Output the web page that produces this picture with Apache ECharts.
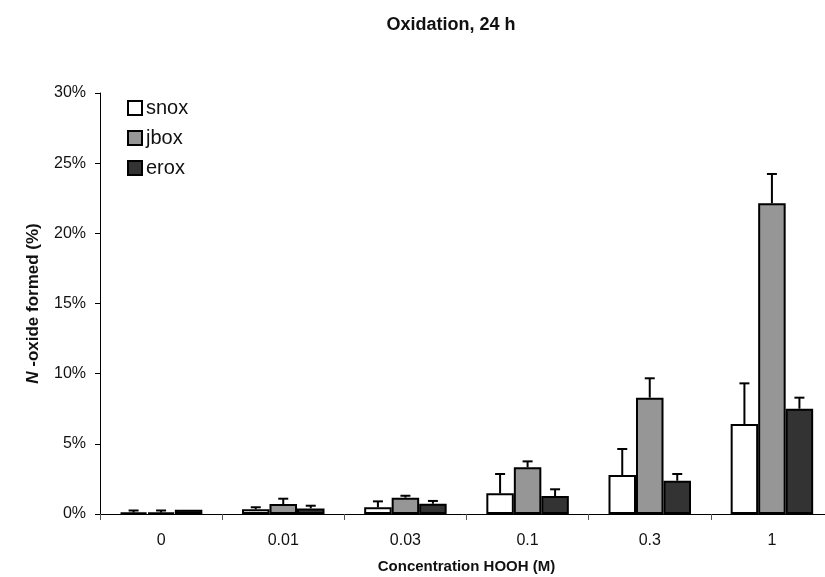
<!DOCTYPE html>
<html>
<head>
<meta charset="utf-8">
<script src="https://cdn.jsdelivr.net/npm/echarts@6/dist/echarts.min.js"></script>
<style>
html,body{margin:0;padding:0;background:#fff;}
#chart{width:825px;height:577px;}
</style>
</head>
<body>
<div id="chart"></div>
<script>
const categories = ['0', '0.01', '0.03', '0.1', '0.3', '1'];
const yTicks = [0, 5, 10, 15, 20, 25, 30];
const snox = [0.10, 0.33, 0.48, 1.47, 2.78, 6.41];
const snoxErr = [0.15, 0.15, 0.42, 1.38, 1.85, 2.90];
const jbox = [0.10, 0.71, 1.16, 3.33, 8.29, 22.14];
const jboxErr = [0.15, 0.38, 0.14, 0.42, 1.38, 2.09];
const erox = [0.30, 0.40, 0.73, 1.28, 2.37, 7.50];
const eroxErr = [0.00, 0.19, 0.20, 0.48, 0.48, 0.79];

const FONT = 'Liberation Sans, Arial, sans-serif';
const BAR_W = 27.5;
const chart = echarts.init(document.getElementById('chart'), null, {renderer: 'canvas'});

function errSeries(vals, errs, offset) {
  return {
    type: 'custom',
    z: 5,
    silent: true,
    data: vals.map((v, i) => [i, v, errs[i]]),
    renderItem: function (params, api) {
      const x = api.value(0), v = api.value(1), e = api.value(2);
      if (!e) return null;
      const b = api.coord([x, v]);
      const t = api.coord([x, v + e]);
      const cx = b[0] + offset;
      return {
        type: 'group',
        children: [
          {type: 'line', shape: {x1: cx, y1: b[1], x2: cx, y2: t[1]}, style: {stroke: '#000', lineWidth: 2}},
          {type: 'line', shape: {x1: cx - 5, y1: t[1], x2: cx + 5, y2: t[1]}, style: {stroke: '#000', lineWidth: 2}}
        ]
      };
    }
  };
}

function barSeries(name, vals, color) {
  return {
    name: name,
    type: 'bar',
    data: vals,
    barWidth: BAR_W,
    barGap: '0%',
    itemStyle: {color: color, borderColor: '#000', borderWidth: 2},
    emphasis: {disabled: true}
  };
}

chart.setOption({
  animation: false,
  backgroundColor: '#fff',
  title: {text: 'Oxidation, 24 h', left: 446, top: 11, textAlign: 'center',
     textStyle: {fontFamily: FONT, fontSize: 18, fontWeight: 'bold', color: '#111'}},
  legend: {
    data: ['snox', 'jbox', 'erox'],
    orient: 'vertical',
    left: 122,
    top: 93,
    itemWidth: 14,
    itemHeight: 14,
    itemGap: 10,
    icon: 'rect',
    textStyle: {fontFamily: FONT, fontSize: 20, color: '#111', padding: [0, 0, 0, -1]}
  },
  grid: {left: 100, top: 93, right: -8, bottom: 63, containLabel: false, outerBoundsMode: 'none'},
  xAxis: {
    type: 'category',
    data: categories,
    name: 'Concentration HOOH (M)',
    nameLocation: 'middle',
    nameGap: 45,
    nameTextStyle: {fontFamily: FONT, fontSize: 15, fontWeight: 'bold', color: '#111'},
    axisLine: {lineStyle: {color: '#000', width: 1}},
    axisTick: {show: true, length: 6, inside: false, lineStyle: {color: '#555'}},
    axisLabel: {fontFamily: FONT, fontSize: 16, color: '#111', margin: 19}
  },
  yAxis: {
    type: 'value',
    min: 0, max: 30, interval: 5,
    name: '{i|N}{b| -oxide formed (%)}',
    nameLocation: 'middle',
    nameGap: 58,
    nameRotate: 90,
    nameTextStyle: {
      rich: {
        i: {fontFamily: FONT, fontSize: 17, fontWeight: 'bold', fontStyle: 'italic', color: '#111'},
        b: {fontFamily: FONT, fontSize: 17, fontWeight: 'bold', color: '#111'}
      }
    },
    axisLine: {show: true, lineStyle: {color: '#000', width: 1}},
    axisTick: {show: true, length: 5, lineStyle: {color: '#000'}},
    splitLine: {show: false},
    axisLabel: {fontFamily: FONT, fontSize: 16, color: '#111', margin: 14,
      formatter: function (v) { return yTicks.indexOf(v) >= 0 ? v + '%' : ''; }}
  },
  series: [
    barSeries('snox', snox, '#ffffff'),
    barSeries('jbox', jbox, '#969696'),
    barSeries('erox', erox, '#333333'),
    errSeries(snox, snoxErr, -BAR_W),
    errSeries(jbox, jboxErr, 0),
    errSeries(erox, eroxErr, BAR_W)
  ]
});
</script>
</body>
</html>
